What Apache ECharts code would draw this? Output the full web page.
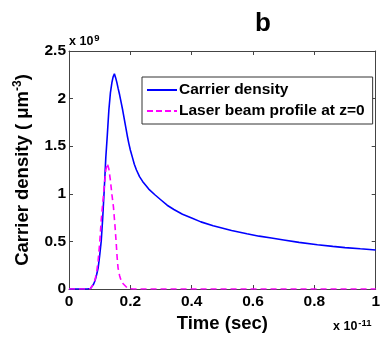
<!DOCTYPE html>
<html>
<head>
<meta charset="utf-8">
<script src="https://cdn.jsdelivr.net/npm/echarts@6/dist/echarts.min.js"></script>
<style>
  html, body { margin: 0; padding: 0; background: #ffffff; }
  #chart { width: 383px; height: 339px; }
</style>
</head>
<body>
<div id="chart"></div>
<script>
// Time in units of 1e-11 s, density in units of 1e9 um^-3
const carrierTime = [0, 0.06, 0.07, 0.075, 0.08, 0.085, 0.09, 0.095, 0.10, 0.105, 0.11, 0.115, 0.12, 0.125, 0.13, 0.135, 0.14, 0.144, 0.148,
  0.152, 0.156, 0.16, 0.165, 0.17, 0.175, 0.18, 0.185, 0.19, 0.195, 0.20, 0.207, 0.213, 0.22, 0.23, 0.24, 0.25, 0.26, 0.28, 0.30, 0.32, 0.342,
  0.37, 0.40, 0.43, 0.47, 0.53, 0.58, 0.62, 0.66, 0.70, 0.75, 0.81, 0.86, 0.90, 0.95, 1.0];
const carrierValues = [0, 0, 0.005, 0.02, 0.05, 0.09, 0.15, 0.22, 0.35, 0.50, 0.75, 1.05, 1.38, 1.62, 1.88, 2.06, 2.17, 2.23, 2.26,
  2.22, 2.17, 2.11, 2.04, 1.96, 1.88, 1.79, 1.70, 1.61, 1.53, 1.46, 1.38, 1.31, 1.25, 1.18, 1.13, 1.09, 1.05, 0.99, 0.935, 0.88, 0.835,
  0.785, 0.745, 0.705, 0.665, 0.615, 0.58, 0.555, 0.535, 0.515, 0.49, 0.465, 0.448, 0.435, 0.422, 0.41];

const laserTime = [0, 0.06, 0.07, 0.075, 0.08, 0.085, 0.09, 0.095, 0.10, 0.105, 0.11, 0.115, 0.12, 0.125, 0.13, 0.135, 0.14, 0.145, 0.15,
  0.154, 0.157, 0.16, 0.165, 0.17, 0.175, 0.18, 0.19, 0.20, 0.21, 1.0];
const laserValues = [0, 0, 0.005, 0.02, 0.05, 0.10, 0.17, 0.30, 0.48, 0.72, 0.90, 1.08, 1.25, 1.32, 1.26, 1.14, 0.99, 0.86, 0.66,
  0.48, 0.33, 0.22, 0.14, 0.09, 0.06, 0.04, 0.012, 0.002, 0, 0];

const xTicks = ['0', '0.2', '0.4', '0.6', '0.8', '1'];
const yTicks = ['0', '0.5', '1', '1.5', '2', '2.5'];

const seriesNames = ['Carrier density', 'Laser beam profile at z=0'];

const pair = (xs, ys) => xs.map((x, i) => [x, ys[i]]);
const fmt = (list, step) => v => {
  const idx = Math.round(v / step);
  return list[idx] !== undefined ? list[idx] : '';
};

const FONT = '"Liberation Sans", Arial, sans-serif';
const axisColor = '#444';

// Box frame: plain axes on all four sides with inward ticks
const frameAxis = (extra) => Object.assign({
  axisLine: { show: true, onZero: false, lineStyle: { color: axisColor } },
  axisTick: { show: true, inside: true, length: 4, lineStyle: { color: axisColor } },
  splitLine: { show: false }
}, extra);

// Legend keys: solid and dashed line samples
const solidKey = 'path://M0,0H30V2H0Z';
const dashedKey = 'path://M0,0H6V2H0Z M9,0H15V2H9Z M18,0H24V2H18Z M27,0H30V2H27Z';

const chart = echarts.init(document.getElementById('chart'), null, { renderer: 'canvas' });
chart.setOption({
  animation: false,
  backgroundColor: '#ffffff',
  title: {
    text: 'b',
    left: 258, top: 6,
    textAlign: 'center',
    textStyle: { fontFamily: FONT, fontWeight: 'bold', fontSize: 26, color: '#000' }
  },
  grid: { left: 69, right: 4, top: 51, bottom: 50, containLabel: false },
  legend: {
    left: 142, top: 77,
    orient: 'vertical',
    data: [{ name: seriesNames[0], icon: solidKey }, { name: seriesNames[1], icon: dashedKey }],
    itemWidth: 30, itemHeight: 2, itemGap: 5,
    padding: [5, 8, 5, 5],
    borderColor: '#333', borderWidth: 1,
    backgroundColor: '#fff',
    textStyle: { fontFamily: FONT, fontWeight: 'bold', fontSize: 15.5, color: '#000', padding: [0, 0, 0, -3] }
  },
  xAxis: [frameAxis({
    type: 'value', min: 0, max: 1, interval: 0.2, position: 'bottom',
    axisLabel: { formatter: fmt(xTicks, 0.2), fontFamily: FONT, fontWeight: 'bold', fontSize: 15.5, color: '#000', margin: 5 },
    name: 'Time (sec)', nameLocation: 'middle', nameGap: 25,
    nameTextStyle: { fontFamily: FONT, fontWeight: 'bold', fontSize: 18.5, color: '#000' }
  }), frameAxis({
    type: 'value', min: 0, max: 1, interval: 0.2, position: 'top',
    axisLabel: { show: false }
  })],
  yAxis: [frameAxis({
    type: 'value', min: 0, max: 2.5, interval: 0.5, position: 'left',
    axisLabel: { formatter: fmt(yTicks, 0.5), fontFamily: FONT, fontWeight: 'bold', fontSize: 15.5, color: '#000', margin: 3 },
    name: '{t|Carrier density ( \u03bcm}{s|-3}{t|)}',
    nameLocation: 'middle', nameGap: 32, nameRotate: 90,
    nameTextStyle: {
      rich: {
        t: { fontFamily: FONT, fontWeight: 'bold', fontSize: 18.5, color: '#000', lineHeight: 22 },
        s: { fontFamily: FONT, fontWeight: 'bold', fontSize: 12, color: '#000', padding: [0, 0, 10, 0], lineHeight: 22 }
      }
    }
  }), frameAxis({
    type: 'value', min: 0, max: 2.5, interval: 0.5, position: 'right',
    axisLabel: { show: false }
  })],
  graphic: [{
    type: 'text', left: 69, top: 33,
    style: {
      text: '{a|x 10}{b|9}',
      rich: {
        a: { fontFamily: FONT, fontWeight: 'bold', fontSize: 12.5, fill: '#000', lineHeight: 16 },
        b: { fontFamily: FONT, fontWeight: 'bold', fontSize: 9.5, fill: '#000', padding: [0, 0, 8, 1], lineHeight: 16 }
      }
    }
  }, {
    type: 'text', left: 333, top: 318,
    style: {
      text: '{a|x 10}{b|-11}',
      rich: {
        a: { fontFamily: FONT, fontWeight: 'bold', fontSize: 12.5, fill: '#000', lineHeight: 16 },
        b: { fontFamily: FONT, fontWeight: 'bold', fontSize: 9.5, fill: '#000', padding: [0, 0, 8, 1], lineHeight: 16 }
      }
    }
  }],
  series: [{
    name: seriesNames[0], type: 'line', data: pair(carrierTime, carrierValues),
    smooth: false, symbol: 'none', z: 3,
    lineStyle: { color: '#0000ff', width: 1.6 },
    itemStyle: { color: '#0000ff' }
  }, {
    name: seriesNames[1], type: 'line', data: pair(laserTime, laserValues),
    smooth: false, symbol: 'none', z: 4,
    lineStyle: { color: '#ff00ff', width: 1.6, type: [6, 4] },
    itemStyle: { color: '#ff00ff' }
  }]
});
</script>
</body>
</html>
